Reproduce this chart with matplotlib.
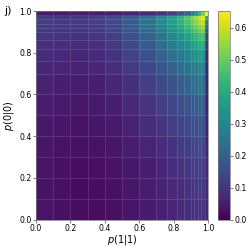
import numpy as np
import matplotlib
matplotlib.use("Agg")
import matplotlib.pyplot as plt

# cell edges along p(1|1) (x) and p(0|0) (y)
x_edges = [0, 0.1, 0.2, 0.3, 0.4, 0.5, 0.6, 0.7, 0.76, 0.82, 0.86, 0.9, 0.92, 0.94, 0.96, 0.98, 1.0]
y_edges = [0, 0.1, 0.2, 0.3, 0.4, 0.5, 0.6, 0.7, 0.76, 0.82, 0.86, 0.9, 0.92, 0.94, 0.96, 0.98, 1.0]

# values, rows bottom (p(0|0) small) to top
row_00 = [0.035, 0.028, 0.022, 0.022, 0.027, 0.035, 0.047, 0.058, 0.068, 0.078, 0.085, 0.090, 0.093, 0.096, 0.098, 0.070]
row_01 = [0.033, 0.026, 0.020, 0.021, 0.027, 0.036, 0.050, 0.062, 0.073, 0.084, 0.092, 0.098, 0.102, 0.105, 0.107, 0.065]
row_02 = [0.034, 0.027, 0.022, 0.024, 0.031, 0.041, 0.056, 0.070, 0.082, 0.094, 0.103, 0.110, 0.115, 0.118, 0.120, 0.060]
row_03 = [0.037, 0.030, 0.026, 0.029, 0.037, 0.049, 0.066, 0.082, 0.096, 0.110, 0.120, 0.128, 0.133, 0.137, 0.140, 0.055]
row_04 = [0.042, 0.036, 0.032, 0.036, 0.045, 0.060, 0.080, 0.098, 0.115, 0.130, 0.142, 0.151, 0.157, 0.162, 0.165, 0.050]
row_05 = [0.050, 0.044, 0.040, 0.045, 0.056, 0.073, 0.097, 0.118, 0.138, 0.157, 0.172, 0.182, 0.190, 0.196, 0.200, 0.050]
row_06 = [0.060, 0.055, 0.050, 0.056, 0.070, 0.090, 0.118, 0.145, 0.168, 0.190, 0.208, 0.222, 0.232, 0.240, 0.245, 0.055]
row_07 = [0.070, 0.065, 0.060, 0.067, 0.083, 0.107, 0.140, 0.172, 0.200, 0.227, 0.250, 0.267, 0.280, 0.290, 0.296, 0.060]
row_08 = [0.080, 0.075, 0.070, 0.078, 0.096, 0.123, 0.162, 0.200, 0.235, 0.265, 0.292, 0.312, 0.327, 0.340, 0.348, 0.070]
row_09 = [0.090, 0.085, 0.080, 0.090, 0.110, 0.140, 0.185, 0.230, 0.270, 0.305, 0.337, 0.360, 0.378, 0.393, 0.403, 0.090]
row_10 = [0.100, 0.095, 0.090, 0.100, 0.122, 0.157, 0.206, 0.256, 0.302, 0.342, 0.378, 0.405, 0.425, 0.443, 0.455, 0.120]
row_11 = [0.105, 0.100, 0.097, 0.108, 0.132, 0.170, 0.224, 0.280, 0.330, 0.375, 0.415, 0.447, 0.470, 0.492, 0.508, 0.160]
row_12 = [0.110, 0.105, 0.102, 0.113, 0.139, 0.180, 0.237, 0.296, 0.350, 0.400, 0.443, 0.478, 0.505, 0.530, 0.550, 0.200]
row_13 = [0.115, 0.110, 0.107, 0.118, 0.145, 0.188, 0.248, 0.310, 0.368, 0.420, 0.466, 0.505, 0.537, 0.567, 0.593, 0.270]
row_14 = [0.115, 0.110, 0.108, 0.120, 0.148, 0.192, 0.254, 0.318, 0.378, 0.432, 0.482, 0.525, 0.562, 0.600, 0.630, 0.400]
row_15 = [0.045, 0.045, 0.046, 0.050, 0.056, 0.065, 0.080, 0.100, 0.130, 0.170, 0.220, 0.280, 0.340, 0.420, 0.520, 0.650]

Z = np.array([row_00, row_01, row_02, row_03, row_04, row_05, row_06, row_07,
              row_08, row_09, row_10, row_11, row_12, row_13, row_14, row_15])

x_ticks = [0.0, 0.2, 0.4, 0.6, 0.8, 1.0]
y_ticks = [0.0, 0.2, 0.4, 0.6, 0.8, 1.0]
cbar_ticks = [0.0, 0.1, 0.2, 0.3, 0.4, 0.5, 0.6]

fig = plt.figure(figsize=(2.49, 2.48), dpi=100)
ax = fig.add_axes([0.1446, 0.114, 0.6905, 0.8416])
cax = fig.add_axes([0.877, 0.114, 0.047, 0.8416])

mesh = ax.pcolormesh(x_edges, y_edges, Z, cmap="viridis", vmin=0, vmax=0.652,
                     edgecolors=(1, 1, 1, 0.12), linewidth=0.4)
ax.set_xlim(0, 1)
ax.set_ylim(0, 1)
ax.set_xticks(x_ticks)
ax.set_yticks(y_ticks)
ax.set_xticklabels([f"{t:.1f}" for t in x_ticks])
ax.set_yticklabels([f"{t:.1f}" for t in y_ticks])
ax.tick_params(labelsize=5.6, length=2, width=0.5, pad=1.2, color="0.3")
ax.set_xlabel(r"$p(1|1)$", fontsize=7, labelpad=0.2)
ax.set_ylabel(r"$p(0|0)$", fontsize=7, labelpad=2.5)
for s in ax.spines.values():
    s.set_linewidth(0.5)
    s.set_edgecolor("0.45")

cb = fig.colorbar(mesh, cax=cax, ticks=cbar_ticks)
cb.ax.tick_params(labelsize=5.6, length=2, width=0.5, pad=1.2, color="0.3")
cb.ax.set_yticklabels([f"{t:.1f}" for t in cbar_ticks])
cb.outline.set_linewidth(0.5)
cb.outline.set_edgecolor("0.45")

fig.text(0.016, 0.955, "j)", fontsize=8, va="center", ha="left")

fig.savefig("out.png", dpi=100)
